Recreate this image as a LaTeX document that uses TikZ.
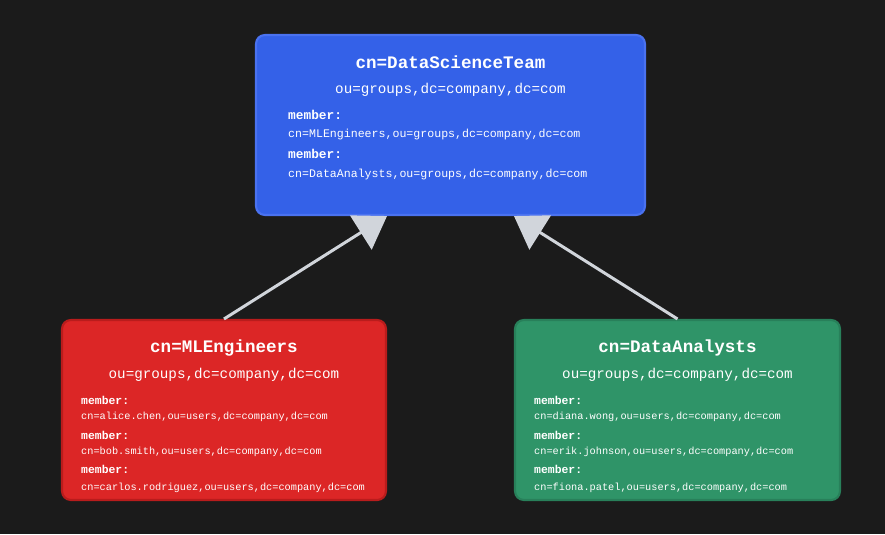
\documentclass[tikz,border=0pt]{standalone}
\usepackage{fontspec}
\setmonofont{Liberation Mono}
\usetikzlibrary{arrows.meta,positioning}
\definecolor{bgdark}{HTML}{1B1B1B}
\definecolor{teamblue}{HTML}{3461E8}
\definecolor{teamblueedge}{HTML}{4A72F0}
\definecolor{mlred}{HTML}{DC2626}
\definecolor{mlrededge}{HTML}{B91C1C}
\definecolor{dagreen}{HTML}{2F9468}
\definecolor{dagreenedge}{HTML}{28805A}
\definecolor{linkgray}{HTML}{D1D5DB}
\begin{document}
\begin{tikzpicture}[
    x=0.02cm, y=-0.02cm,
    group/.style={rectangle, rounded corners=5pt, line width=1.2pt, minimum width=#1, minimum height=3.6cm, inner sep=0pt},
    title/.style={anchor=base, text=white, font=\ttfamily\bfseries\fontsize{10}{12}\selectfont},
    dn/.style={anchor=base, text=white, font=\ttfamily\fontsize{8.1}{10}\selectfont},
    memlabel/.style={anchor=base west, text=white, font=\ttfamily\bfseries\fontsize{#1}{9}\selectfont},
    memval/.style={anchor=base west, text=white, font=\ttfamily\fontsize{#1}{9}\selectfont},
    link/.style={draw=linkgray, line width=1.7pt, -{Triangle[length=0.62cm, width=0.8cm]}}
]
    \fill[bgdark] (0,0) rectangle (885,534);

    % parent group
    \node[group=7.78cm, fill=teamblue, draw=teamblueedge] (team) at (450.5,125) {};
    \node[title] (teamcn) at (450.5,68) {cn=DataScienceTeam};
    \node[dn] (teamou) at (450.5,93) {ou=groups,dc=company,dc=com};
    \node[memlabel=7.3] (tm1) at (282,119) {member:};
    \node[memval=6.6] (tv1) at (282,137) {cn=MLEngineers,ou=groups,dc=company,dc=com};
    \node[memlabel=7.3] (tm2) at (282,158) {member:};
    \node[memval=6.6] (tv2) at (282,177) {cn=DataAnalysts,ou=groups,dc=company,dc=com};

    % child groups
    \node[group=6.48cm, fill=mlred, draw=mlrededge] (ml) at (224,410) {};
    \node[title] (mlcn) at (224,352) {cn=MLEngineers};
    \node[dn] (mlou) at (224,378) {ou=groups,dc=company,dc=com};
    \node[memlabel=6.5] (mm1) at (75,404) {member:};
    \node[memval=5.85] (mv1) at (75,419) {cn=alice.chen,ou=users,dc=company,dc=com};
    \node[memlabel=6.5] (mm2) at (75,439) {member:};
    \node[memval=5.85] (mv2) at (75,454) {cn=bob.smith,ou=users,dc=company,dc=com};
    \node[memlabel=6.5] (mm3) at (75,473) {member:};
    \node[memval=5.85] (mv3) at (75,490) {cn=carlos.rodriguez,ou=users,dc=company,dc=com};

    \node[group=6.5cm, fill=dagreen, draw=dagreenedge] (da) at (677.5,410) {};
    \node[title] (dacn) at (677.5,352) {cn=DataAnalysts};
    \node[dn] (daou) at (677.5,378) {ou=groups,dc=company,dc=com};
    \node[memlabel=6.5] (dm1) at (528,404) {member:};
    \node[memval=5.85] (dv1) at (528,419) {cn=diana.wong,ou=users,dc=company,dc=com};
    \node[memlabel=6.5] (dm2) at (528,439) {member:};
    \node[memval=5.85] (dv2) at (528,454) {cn=erik.johnson,ou=users,dc=company,dc=com};
    \node[memlabel=6.5] (dm3) at (528,473) {member:};
    \node[memval=5.85] (dv3) at (528,490) {cn=fiona.patel,ou=users,dc=company,dc=com};

    \draw[link] (ml.north) -- (team.south -| ml.east);
    \draw[link] (da.north) -- (team.south -| da.west);
\end{tikzpicture}
\end{document}
